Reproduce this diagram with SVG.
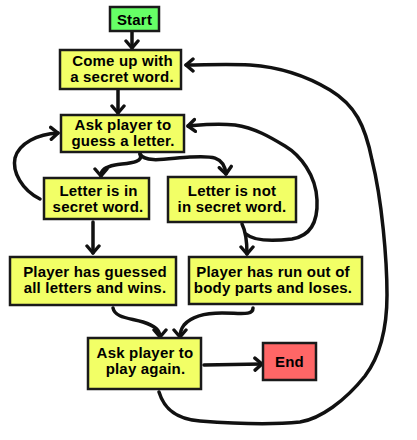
<svg xmlns="http://www.w3.org/2000/svg" width="417" height="440" viewBox="0 0 417 440">
<style>
.box{stroke:#1a1a1a;stroke-width:2.5}
.y{fill:#f2ff66}
.g{fill:#66ff66}
.r{fill:#ff6666}
text{font-family:"Liberation Sans",Arial,sans-serif;font-weight:bold;font-size:15px;letter-spacing:0.2px;fill:#000;text-anchor:middle}
.c path{fill:none;stroke:#111;stroke-width:3.5;stroke-linecap:round;stroke-linejoin:round}
</style>
<defs>
<marker id="a" markerUnits="userSpaceOnUse" markerWidth="14" markerHeight="16" refX="9" refY="7" orient="auto" viewBox="0 0 14 14">
<path d="M2,1 L9,7 L2,13" fill="none" stroke="#111" stroke-width="3.4" stroke-linecap="round" stroke-linejoin="round"/>
</marker>
</defs>
<rect width="417" height="440" fill="#fff"/>
<g class="c">
<path d="M132,32 L132,48" marker-end="url(#a)"/>
<path d="M118,90 L118,113" marker-end="url(#a)"/>
<path d="M140,154 C144,163 128,163 115,165 C105,167 101,170 101,176" marker-end="url(#a)"/>
<path d="M140,154 C146,164 170,158 190,157 C210,156 224,155 226,174" marker-end="url(#a)"/>
<path d="M40,199 C22,190 12,172 15,158 C19,143 38,134 58,133" marker-end="url(#a)"/>
<path d="M93,222 L93,253" marker-end="url(#a)"/>
<path d="M242,224 C246,232 247,240 247,254" marker-end="url(#a)"/>
<path d="M246,234 C255,242 275,241 292,239 C310,236 318,222 317,200 C316,175 300,155 285,146 C270,137 255,128 235,125 C215,123 200,125 188,126" marker-end="url(#a)"/>
<path d="M113,308 C115,318 130,318 143,322 C155,326 160,330 160,337" marker-end="url(#a)"/>
<path d="M253,308 C253,316 240,313 222,313 C200,313 190,318 184,325 C181,329 180,333 180,337" marker-end="url(#a)"/>
<path d="M204,365 L262,364" marker-end="url(#a)"/>
<path d="M159,392 C163,405 172,419 200,421 C240,424 280,424 300,422 C320,419 345,401 365,376 C380,356 387,330 387,295 C387,260 382,200 372,160 C365,125 355,105 330,90 C305,75 280,67 250,65 C225,64 205,65 186,65" marker-end="url(#a)"/>
</g>
<g id="start"><rect class="box g" x="110" y="7" width="49" height="24"/><text x="134.5" y="24.5">Start</text></g>
<g id="secret"><rect class="box y" x="60" y="50" width="121" height="39"/><text x="122.5" y="66">Come up with</text><text x="122" y="82">a secret word.</text></g>
<g id="ask"><rect class="box y" x="61" y="115" width="123" height="37"/><text x="123" y="130">Ask player to</text><text x="123" y="145.5">guess a letter.</text></g>
<g id="in"><rect class="box y" x="44" y="178" width="105" height="41"/><text x="98.5" y="196">Letter is in</text><text x="98" y="212">secret word.</text></g>
<g id="notin"><rect class="box y" x="168" y="177" width="128" height="45"/><text x="232" y="196">Letter is not</text><text x="232" y="212">in secret word.</text></g>
<g id="wins"><rect class="box y" x="10" y="257" width="166" height="48"/><text x="95" y="277">Player has guessed</text><text x="95" y="292.5">all letters and wins.</text></g>
<g id="loses"><rect class="box y" x="189" y="257" width="173" height="47"/><text x="273" y="277">Player has run out of</text><text x="273" y="292.5">body parts and loses.</text></g>
<g id="again"><rect class="box y" x="88" y="338" width="113" height="51"/><text x="145" y="358">Ask player to</text><text x="145.5" y="373.5">play again.</text></g>
<g id="end"><rect class="box r" x="263" y="343" width="53" height="37"/><text x="289.5" y="366.5">End</text></g>
</svg>
